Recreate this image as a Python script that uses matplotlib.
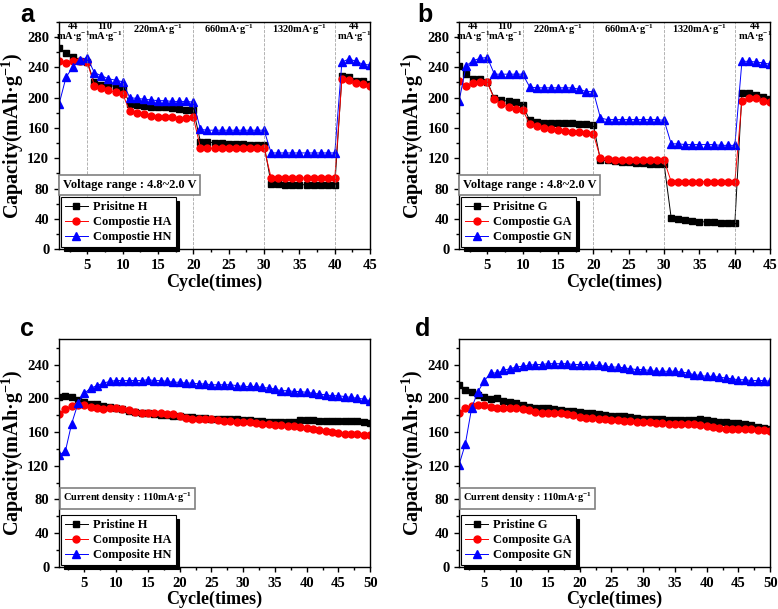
"""
Rate capability (a, b) and cycling (c, d) of pristine / composite cathodes
"""

import matplotlib.pyplot as plt
import numpy as np
from matplotlib.ticker import MultipleLocator

plt.rcParams['font.family'] = 'Liberation Serif'
plt.rcParams['font.weight'] = 'bold'
plt.rcParams['axes.labelweight'] = 'bold'
plt.rcParams['mathtext.fontset'] = 'custom'
plt.rcParams['mathtext.rm'] = 'Liberation Serif:bold'
plt.rcParams['mathtext.default'] = 'rm'

# ---- data: rate test (45 cycles) ----
cyc_rate = np.arange(1, 46)

a_pristine = [265, 259, 254, 249, 247, 220, 217, 216, 215, 213,
              192, 190, 189, 188, 187, 187, 186, 185, 184, 184,
              142, 142, 140, 140, 139, 139, 139, 138, 138, 138,
              86, 86, 85, 85, 85, 85, 84, 84, 84, 84,
              228, 227, 222, 222, 218]
a_comp_a = [248, 246, 248, 249, 247, 216, 213, 210, 207, 205,
            182, 180, 178, 176, 175, 174, 174, 172, 173, 174,
            134, 133, 133, 133, 133, 133, 133, 133, 133, 133,
            94, 94, 94, 94, 94, 94, 94, 94, 94, 94,
            224, 223, 219, 218, 216]
a_comp_n = [191, 227, 241, 250, 253, 233, 229, 225, 223, 221,
            200, 199, 198, 197, 196, 196, 195, 195, 195, 194,
            158, 157, 157, 157, 157, 157, 157, 157, 157, 157,
            127, 127, 127, 127, 127, 127, 127, 127, 127, 127,
            247, 251, 248, 244, 243]

b_pristine = [242, 231, 225, 224, 221, 199, 197, 195, 194, 190,
              170, 168, 166, 166, 166, 166, 166, 165, 165, 164,
              117, 117, 116, 115, 115, 114, 114, 113, 113, 112,
              41, 40, 38, 37, 36, 36, 36, 35, 35, 34,
              206, 206, 204, 201, 198]
b_comp_a = [222, 216, 219, 220, 220, 198, 192, 188, 185, 184,
            165, 162, 160, 159, 157, 156, 155, 154, 153, 152,
            120, 119, 118, 118, 118, 117, 117, 117, 117, 117,
            89, 89, 89, 89, 89, 89, 89, 89, 89, 89,
            196, 200, 199, 195, 194]
b_comp_n = [195, 242, 249, 252, 253, 231, 231, 231, 231, 231,
            214, 213, 213, 213, 213, 213, 213, 211, 208, 208,
            173, 171, 171, 171, 171, 171, 171, 171, 171, 170,
            139, 139, 138, 138, 138, 138, 138, 137, 137, 137,
            248, 248, 247, 246, 244]

# current steps: (label, x position, y position)
rate_labels = [("44\nmA·g$^{-1}$", 3.0, 285),
               ("110\nmA·g$^{-1}$", 7.5, 285),
               ("220mA·g$^{-1}$", 15, 289),
               ("660mA·g$^{-1}$", 25, 289),
               ("1320mA·g$^{-1}$", 35, 289),
               ("44\nmA·g$^{-1}$", 42.8, 285)]
rate_bounds = [5, 10, 20, 30, 40]

# ---- data: cycling at 110 mA/g (50 cycles) ----
cyc_life = np.arange(1, 51)

c_pristine = [201, 203, 201, 198, 195, 193, 193, 191, 190, 189,
              187, 185, 184, 183, 182, 181, 180, 180, 179, 179,
              178, 178, 177, 177, 176, 176, 176, 175, 175, 174,
              174, 173, 173, 172, 172, 172, 172, 172, 174, 174,
              174, 173, 173, 173, 173, 173, 173, 173, 172, 171]
c_comp_a = [181, 187, 191, 192, 192, 190, 188, 187, 189, 188,
            187, 186, 184, 183, 183, 183, 182, 181, 181, 179,
            177, 175, 175, 175, 175, 174, 173, 173, 172, 172,
            172, 171, 170, 169, 168, 168, 167, 167, 166, 165,
            164, 162, 161, 160, 159, 158, 158, 158, 157, 156]
c_comp_n = [133, 137, 170, 194, 206, 212, 215, 218, 220, 221,
            221, 221, 221, 221, 222, 221, 221, 220, 219, 219,
            218, 218, 217, 217, 216, 216, 216, 216, 215, 214,
            214, 214, 213, 212, 211, 209, 209, 208, 208, 207,
            206, 205, 204, 203, 203, 202, 201, 200, 199, 197]

d_pristine = [216, 210, 207, 204, 201, 199, 200, 197, 196, 194,
              192, 190, 189, 189, 188, 187, 186, 185, 185, 184,
              183, 182, 181, 180, 179, 179, 179, 178, 177, 176,
              176, 175, 175, 174, 174, 174, 174, 174, 175, 174,
              173, 172, 172, 171, 171, 169, 168, 166, 165, 164]
d_comp_a = [182, 189, 191, 192, 192, 190, 189, 188, 188, 188,
            187, 186, 184, 183, 183, 183, 182, 181, 180, 178,
            177, 177, 176, 175, 174, 174, 173, 173, 172, 172,
            172, 171, 171, 170, 170, 169, 169, 169, 168, 167,
            166, 165, 164, 164, 164, 163, 163, 162, 162, 161]
d_comp_n = [121, 146, 189, 208, 221, 230, 230, 233, 235, 237,
            238, 239, 240, 240, 241, 241, 241, 241, 240, 240,
            240, 239, 239, 238, 237, 237, 236, 235, 234, 234,
            233, 232, 232, 232, 232, 231, 230, 228, 227, 226,
            226, 225, 224, 223, 222, 222, 221, 221, 221, 220]

styles = [dict(color="black", marker="s", markersize=4.5),
          dict(color="red", marker="o", markersize=5),
          dict(color="blue", marker="^", markersize=5.5)]


def draw(ax, x, series, labels, note, note_size, xmax, ymax, yticks):
    for y, lab, st in zip(series, labels, styles):
        ax.plot(x, y, linewidth=0.7, label=lab, **st)
    ax.set_xlim(1, xmax)
    ax.set_ylim(0, ymax)
    ax.set_xticks(np.arange(5, xmax + 1, 5))
    ax.set_yticks(yticks)
    ax.xaxis.set_minor_locator(MultipleLocator(2.5))
    ax.yaxis.set_minor_locator(MultipleLocator(20))
    ax.tick_params(which="both", direction="out", labelsize=10.5, width=1)
    ax.tick_params(which="minor", length=2.5)
    for s in ax.spines.values():
        s.set_linewidth(1)
    ax.set_xlabel("Cycle(times)", fontsize=13, labelpad=1)
    ax.set_ylabel("Capacity(mAh·g$^{-1}$)", fontsize=14.5, labelpad=1)
    leg = ax.legend(loc="lower left", bbox_to_anchor=(0.0, 0.0), fontsize=9,
                    frameon=True, fancybox=False, edgecolor="black",
                    shadow={"color": "black", "alpha": 1, "ox": 2.5, "oy": -2.5},
                    borderpad=0.3, labelspacing=0.25, handlelength=1.9,
                    handletextpad=0.4, borderaxespad=0.15)
    leg.get_frame().set_linewidth(0.8)
    ax.text(0.013, 0.255 if ymax == 300 else 0.27, note, transform=ax.transAxes,
            fontsize=note_size, va="bottom", ha="left",
            bbox=dict(boxstyle="square,pad=0.3", facecolor="white",
                      edgecolor="gray", linewidth=1.2))


def rate_marks(ax):
    for b in rate_bounds:
        ax.axvline(b, color="gray", linestyle="--", linewidth=0.6, alpha=0.7)
    for txt, xp, yp in rate_labels:
        ax.text(xp, yp, txt, fontsize=7.5, ha="center", va="center",
                linespacing=0.9)


fig = plt.figure(figsize=(7.78, 6.09), dpi=100)
ax_a = fig.add_axes([0.0758, 0.591, 0.400, 0.373])
ax_b = fig.add_axes([0.590, 0.591, 0.400, 0.373])
ax_c = fig.add_axes([0.0758, 0.069, 0.400, 0.374])
ax_d = fig.add_axes([0.590, 0.069, 0.400, 0.374])

draw(ax_a, cyc_rate, [a_pristine, a_comp_a, a_comp_n],
     ["Prisitne H", "Compostie HA", "Compostie HN"],
     "Voltage range : 4.8~2.0 V", 9, 45, 300, np.arange(0, 281, 40))
rate_marks(ax_a)
draw(ax_b, cyc_rate, [b_pristine, b_comp_a, b_comp_n],
     ["Prisitne G", "Compostie GA", "Compostie GN"],
     "Voltage range : 4.8~2.0 V", 9, 45, 300, np.arange(0, 281, 40))
rate_marks(ax_b)
draw(ax_c, cyc_life, [c_pristine, c_comp_a, c_comp_n],
     ["Pristine H", "Composite HA", "Composite HN"],
     "Current density : 110mA·g$^{-1}$", 7.5, 50, 270, np.arange(0, 241, 40))
draw(ax_d, cyc_life, [d_pristine, d_comp_a, d_comp_n],
     ["Pristine G", "Composite GA", "Composite GN"],
     "Current density : 110mA·g$^{-1}$", 7.5, 50, 270, np.arange(0, 241, 40))

for lab, xp, yp in [("a", 0.026, 0.995), ("b", 0.537, 0.995),
                    ("c", 0.026, 0.48), ("d", 0.534, 0.48)]:
    fig.text(xp, yp, lab, fontsize=18, fontweight="bold",
             family="Liberation Sans", ha="left", va="top")

fig.savefig("out.png", dpi=100)
